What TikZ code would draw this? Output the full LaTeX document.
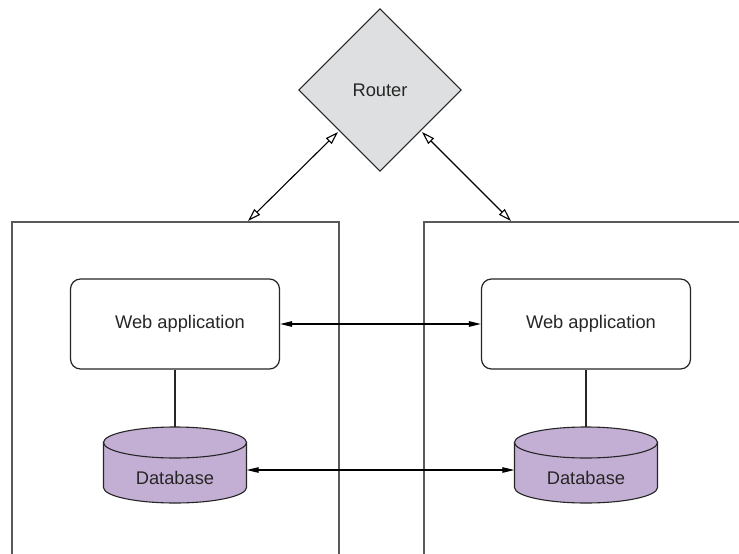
\documentclass[tikz,border=0pt]{standalone}
\usepackage{fontspec}
\setmainfont{Liberation Sans}
\usetikzlibrary{shapes.geometric,arrows.meta,calc}
\definecolor{routerfill}{HTML}{DDDFE0}
\definecolor{dbfill}{HTML}{C3AFD4}
\definecolor{boxline}{HTML}{595959}
\definecolor{txt}{HTML}{262626}
\tikzset{
  outerbox/.style={draw=boxline, line width=1.8pt, rectangle, inner sep=0pt, anchor=north west},
  routerbox/.style={diamond, draw=black!85, fill=routerfill, line width=1pt, minimum width=164pt, minimum height=164pt, inner sep=0pt, outer sep=2pt, text=txt, font=\fontsize{18.3}{21}\selectfont},
  webbox/.style={draw=black!85, line width=1.2pt, rounded corners=10pt, minimum width=209pt, minimum height=90pt, inner sep=0pt, text=txt, font=\fontsize{18.3}{21}\selectfont},
  dblabel/.style={minimum width=143pt, inner sep=0pt, text=txt, font=\fontsize{18.3}{21}\selectfont},
  dbshape/.style={fill=dbfill, draw=black!85, line width=1.1pt},
  openarrow/.style={draw=black, line width=1.1pt, {Triangle[open,length=13pt,width=8pt]}-{Triangle[open,length=13pt,width=8pt]}},
  solidarrow/.style={draw=black, line width=1.1pt, {Triangle[length=12pt,width=5.5pt]}-{Triangle[length=12pt,width=5.5pt]}},
  link/.style={draw=black!85, line width=1.2pt}
}
\begin{document}
\begin{tikzpicture}[x=1pt,y=-1pt]
\clip (0,0) rectangle (739,554);
\fill[white] (0,0) rectangle (739,554);
% outer boxes
\node[outerbox, minimum width=327pt, minimum height=400pt] (box1) at (11,221) {};
\node[outerbox, minimum width=340pt, minimum height=400pt] (box2) at (423,221) {};
% router
\node[routerbox] (router) at (380,90) {Router};
% web applications
\node[webbox] (web1) at (175,324) {\hspace*{10pt}Web application};
\node[webbox] (web2) at (586,324) {\hspace*{10pt}Web application};
% databases
\foreach \cx/\nm in {175/db1, 586/db2}{
  \filldraw[dbshape] (\cx-71.5,442.5) -- (\cx-71.5,487.5)
     arc[start angle=180,end angle=360,x radius=71.5pt,y radius=15.5pt]
     -- (\cx+71.5,442.5) -- cycle;
  \filldraw[dbshape] (\cx,442.5) ellipse[x radius=71.5pt,y radius=15.5pt];
  \coordinate (\nm top) at (\cx,427);
  \node[dblabel] (\nm) at (\cx,478) {Database};
}
% connectors
\draw[link] (web1.south) -- (db1top);
\draw[link] (web2.south) -- (db2top);
\draw[solidarrow] (web1.east) -- (web2.west);
\draw[solidarrow] ([yshift=8pt]db1.east) -- ([yshift=8pt]db2.west);
\draw[openarrow] (router.south west) -- ($(box1.north west)+(237,0)$);
\draw[openarrow] (router.south east) -- ($(box2.north west)+(88,0)$);
\end{tikzpicture}
\end{document}
